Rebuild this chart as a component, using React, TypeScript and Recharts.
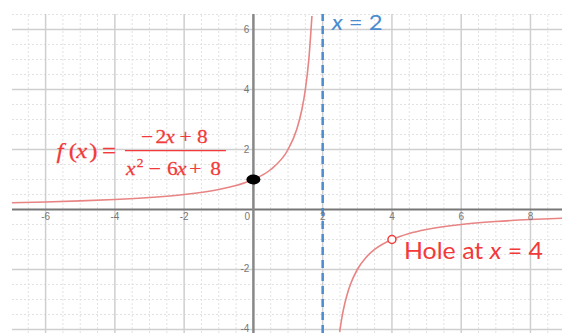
import React from "react";
import { ComposedChart, Line, XAxis, YAxis, ReferenceLine, ReferenceDot } from "recharts";

// f(x) = (-2x+8)/(x^2-6x+8)
const leftX = [-7, -6, -5, -4, -3, -2, -1, -0.5, 0, 0.5, 1, 1.25, 1.4, 1.5, 1.6, 1.69];
const leftY = [0.222, 0.25, 0.286, 0.333, 0.4, 0.5, 0.667, 0.8, 1, 1.333, 2, 2.667, 3.333, 4, 5, 6.45];
const rightX = [2.49, 2.55, 2.6, 2.7, 2.8, 3, 3.25, 3.5, 4, 4.5, 5, 6, 7, 8, 9];
const rightY = [-4.08, -3.636, -3.333, -2.857, -2.5, -2, -1.6, -1.333, -1, -0.8, -0.667, -0.5, -0.4, -0.333, -0.286];

const xMajor = [-6, -4, -2, 2, 4, 6, 8];
const yMajor = [-4, -2, 2, 4, 6];
const xMinor = [-6.5, -5.5, -5, -4.5, -3.5, -3, -2.5, -1.5, -1, -0.5, 0.5, 1, 1.5, 2.5, 3, 3.5, 4.5, 5, 5.5, 6.5, 7, 7.5, 8.5];
const yMinor = [-3.5, -3, -2.5, -1.5, -1, -0.5, 0.5, 1, 1.5, 2.5, 3, 3.5, 4.5, 5, 5.5, 6.5];
const xTickLabels = ["-6", "-4", "-2", "0", "2", "4", "6", "8"];
const xTickValues = [-6, -4, -2, 0, 2, 4, 6, 8];
const yTickLabels = ["6", "4", "2", "-2", "-4"];
const yTickValues = [6, 4, 2, -2, -4];

const asymptoteX = 2;
const yIntercept = { x: 0, y: 1 };
const hole = { x: 4, y: -1 };
const formulaAnchor = { x: -3.71, y: 1.96 };

const leftData = leftX.map((x, i) => ({ x, y: leftY[i] }));
const rightData = rightX.map((x, i) => ({ x, y: rightY[i] }));

const RED = "#f23a3a";
const CURVE = "#e88484";
const BLUE = "#4a8ccf";
const SERIF = "'Liberation Serif', 'Times New Roman', serif";
const SANS = "Lato, 'Open Sans', sans-serif";

const FormulaShape = (p: any) => {
  const g = (ch: string, dx: number, italic = false) => (
    <tspan x={dx} fontStyle={italic ? "italic" : "normal"}>{ch}</tspan>
  );
  return (
    <g transform={`translate(${p.cx},${p.cy}) scale(1.13,1)`} fill={RED} stroke={RED} strokeWidth={0.25} fontFamily={SERIF}>
      <text y={7} fontSize={22}>
        {g("f", -60.5, true)}
        {g("(", -49.8)}
        {g("x", -43, true)}
        {g(")", -31.5)}
        {g("=", -20.3)}
      </text>
      <text y={-8} fontSize={19}>
        {g("−", 14.2)}
        {g("2", 27)}
        {g("x", 35.6, true)}
        {g("+", 48.3)}
        {g("8", 63.7)}
      </text>
      <line x1={0} x2={89.4} y1={0} y2={0} stroke={RED} strokeWidth={1.2} />
      <text y={24.5} fontSize={19}>
        {g("x", 0.9, true)}
      </text>
      <text x={10.6} y={16.5} fontSize={12}>2</text>
      <text y={24.5} fontSize={19}>
        {g("−", 21.2)}
        {g("6", 37.2)}
        {g("x", 46, true)}
        {g("+", 57)}
        {g("8", 75.6)}
      </text>
    </g>
  );
};

const AsymLabel = (p: any) => (
  <text x={p.cx + 9} y={p.cy + 16} fill={BLUE} fontFamily={SANS} fontSize={21} textLength={51} lengthAdjust="spacingAndGlyphs">
    <tspan fontStyle="italic">x</tspan> = 2
  </text>
);

const HoleLabel = (p: any) => (
  <text x={p.cx + 12} y={p.cy + 19.5} fill={RED} fontFamily={SANS} fontSize={23} textLength={139} lengthAdjust="spacingAndGlyphs">
    Hole at <tspan fontStyle="italic">x</tspan> = 4
  </text>
);

const XTick = (label: string) => (p: any) => (
  <text x={label === "0" ? p.cx - 6 : p.cx} y={p.cy + 10.5} textAnchor="middle" fontSize={10} fill="#777" fontFamily="'Liberation Sans', Arial, sans-serif">
    {label}
  </text>
);
const YTick = (label: string) => (p: any) => (
  <text x={p.cx - 4} y={p.cy + 3} textAnchor="end" fontSize={10} fill="#777" fontFamily="'Liberation Sans', Arial, sans-serif">
    {label}
  </text>
);

export default function App() {
  return (
    <div style={{ position: "absolute", left: 0, top: 0, width: 562, height: 333, background: "#fff" }}>
      <ComposedChart width={562} height={333} margin={{ top: 14, right: 0, bottom: 0, left: 12 }}>
        <XAxis dataKey="x" type="number" domain={[-6.97, 8.91]} allowDataOverflow hide />
        <YAxis type="number" domain={[-4.117, 6.517]} allowDataOverflow hide />
        {xMinor.map((v) => (
          <ReferenceLine key={"xm" + v} x={v} stroke="#e2e2e2" strokeDasharray="2 2" ifOverflow="hidden" />
        ))}
        {yMinor.map((v) => (
          <ReferenceLine key={"ym" + v} y={v} stroke="#e2e2e2" strokeDasharray="2 2" ifOverflow="hidden" />
        ))}
        {xMajor.map((v) => (
          <ReferenceLine key={"xM" + v} x={v} stroke="#cfcfcf" strokeWidth={1.5} />
        ))}
        {yMajor.map((v) => (
          <ReferenceLine key={"yM" + v} y={v} stroke="#cfcfcf" strokeWidth={1.5} />
        ))}
        <ReferenceLine y={0} stroke="#777" strokeWidth={2} />
        <ReferenceLine x={0} stroke="#888" strokeWidth={2.5} />
        {xTickValues.map((v, i) => (
          <ReferenceDot key={"xt" + v} x={v} y={0} shape={XTick(xTickLabels[i])} />
        ))}
        {yTickValues.map((v, i) => (
          <ReferenceDot key={"yt" + v} x={0} y={v} shape={YTick(yTickLabels[i])} />
        ))}
        <Line data={leftData} dataKey="y" type="monotone" stroke={CURVE} strokeWidth={1.6} dot={false} isAnimationActive={false} />
        <Line data={rightData} dataKey="y" type="monotone" stroke={CURVE} strokeWidth={1.6} dot={false} isAnimationActive={false} />
        <ReferenceLine x={asymptoteX} stroke={BLUE} strokeWidth={2.5} strokeDasharray="8 5" />
        <ReferenceDot x={asymptoteX} y={6.517} shape={AsymLabel} ifOverflow="visible" />
        <ReferenceDot x={yIntercept.x} y={yIntercept.y} shape={(p: any) => <ellipse cx={p.cx} cy={p.cy} rx={7} ry={5} fill="#000" />} />
        <ReferenceDot x={hole.x} y={hole.y} r={4} fill="#fff" stroke={RED} strokeWidth={1.5} />
        <ReferenceDot x={hole.x} y={hole.y} shape={HoleLabel} />
        <ReferenceDot x={formulaAnchor.x} y={formulaAnchor.y} shape={FormulaShape} />
      </ComposedChart>
    </div>
  );
}
